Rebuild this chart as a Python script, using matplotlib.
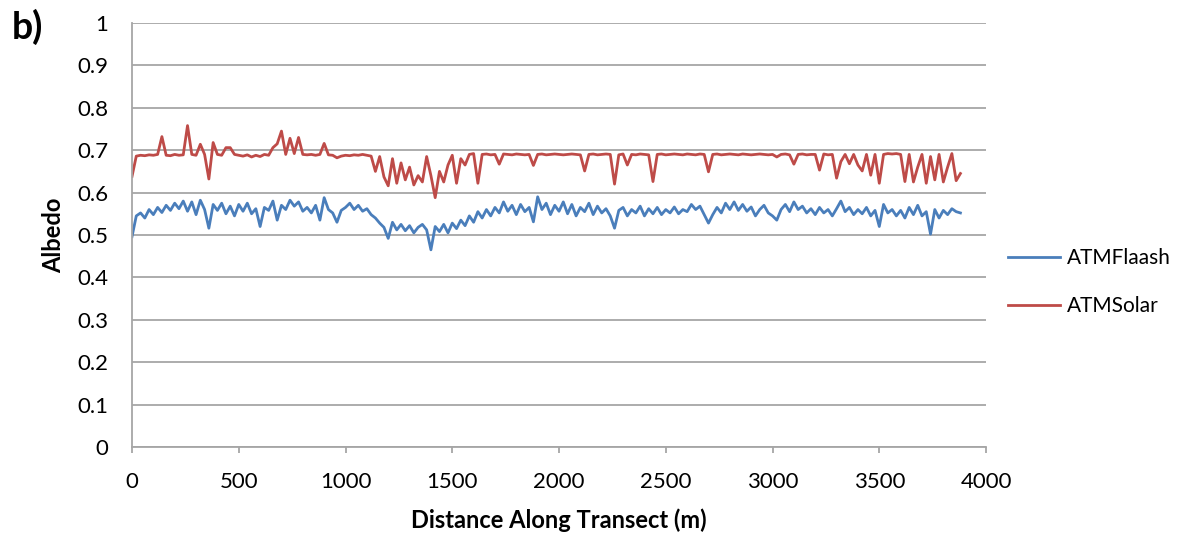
import numpy as np
import matplotlib.pyplot as plt

atm_flaash = [
    0.496, 0.545, 0.552, 0.540, 0.560, 0.548, 0.565, 0.553, 0.570, 0.558,
    0.575, 0.562, 0.580, 0.556, 0.578, 0.548, 0.582, 0.560, 0.516, 0.572,
    0.558, 0.575, 0.550, 0.568, 0.545, 0.572, 0.556, 0.575, 0.550, 0.562,
    0.520, 0.565, 0.558, 0.580, 0.535, 0.570, 0.560, 0.582, 0.568, 0.578,
    0.556, 0.565, 0.552, 0.570, 0.535, 0.588, 0.560, 0.552, 0.530, 0.558,
    0.565, 0.575, 0.560, 0.570, 0.556, 0.562, 0.548, 0.540, 0.528, 0.518,
    0.492, 0.530, 0.512, 0.525, 0.510, 0.522, 0.505, 0.518, 0.525, 0.512,
    0.465, 0.520, 0.508, 0.525, 0.505, 0.528, 0.515, 0.535, 0.522, 0.545,
    0.530, 0.555, 0.540, 0.560, 0.545, 0.565, 0.552, 0.578, 0.556, 0.570,
    0.548, 0.572, 0.555, 0.565, 0.531, 0.590, 0.560, 0.575, 0.548, 0.570,
    0.556, 0.578, 0.550, 0.572, 0.545, 0.565, 0.555, 0.575, 0.548, 0.568,
    0.552, 0.562, 0.545, 0.516, 0.558, 0.565, 0.545, 0.560, 0.552, 0.568,
    0.545, 0.562, 0.550, 0.565, 0.548, 0.560, 0.552, 0.566, 0.550, 0.560,
    0.555, 0.572, 0.560, 0.568, 0.548, 0.528, 0.548, 0.565, 0.552, 0.575,
    0.560, 0.578, 0.558, 0.572, 0.556, 0.566, 0.545, 0.560, 0.570, 0.552,
    0.545, 0.535, 0.560, 0.572, 0.555, 0.578, 0.560, 0.568, 0.552, 0.562,
    0.548, 0.565, 0.552, 0.560, 0.545, 0.562, 0.580, 0.555, 0.565, 0.548,
    0.560, 0.550, 0.565, 0.545, 0.558, 0.520, 0.572, 0.552, 0.560, 0.545,
    0.558, 0.540, 0.565, 0.548, 0.570, 0.545, 0.555, 0.502, 0.560, 0.540,
    0.558, 0.548, 0.562, 0.555, 0.552,
]
atm_solar = [
    0.638, 0.686, 0.688, 0.687, 0.689, 0.688, 0.690, 0.732, 0.688, 0.687,
    0.690, 0.688, 0.689, 0.758, 0.690, 0.688, 0.714, 0.690, 0.632, 0.718,
    0.690, 0.688, 0.706, 0.706, 0.690, 0.688, 0.686, 0.689, 0.684, 0.688,
    0.685, 0.690, 0.688, 0.706, 0.715, 0.745, 0.690, 0.728, 0.692, 0.730,
    0.690, 0.689, 0.690, 0.688, 0.690, 0.716, 0.689, 0.688, 0.682, 0.686,
    0.688, 0.687, 0.689, 0.688, 0.690, 0.688, 0.686, 0.650, 0.685, 0.637,
    0.616, 0.680, 0.622, 0.670, 0.630, 0.660, 0.618, 0.640, 0.625, 0.685,
    0.640, 0.588, 0.650, 0.625, 0.665, 0.688, 0.622, 0.680, 0.665, 0.690,
    0.692, 0.622, 0.690, 0.691, 0.689, 0.690, 0.667, 0.691, 0.690, 0.689,
    0.691, 0.690, 0.689, 0.690, 0.664, 0.690, 0.691, 0.689, 0.690, 0.691,
    0.690, 0.689, 0.690, 0.691, 0.690, 0.689, 0.651, 0.690, 0.691, 0.689,
    0.690, 0.691, 0.690, 0.620, 0.689, 0.691, 0.665, 0.690, 0.689, 0.691,
    0.690, 0.689, 0.626, 0.690, 0.691, 0.689, 0.690, 0.691, 0.690, 0.689,
    0.691, 0.690, 0.689, 0.691, 0.690, 0.649, 0.690, 0.691, 0.689, 0.690,
    0.691, 0.690, 0.689, 0.691, 0.690, 0.689, 0.690, 0.691, 0.690, 0.689,
    0.690, 0.684, 0.690, 0.691, 0.689, 0.667, 0.690, 0.691, 0.689, 0.690,
    0.690, 0.653, 0.691, 0.689, 0.690, 0.634, 0.673, 0.690, 0.668, 0.690,
    0.665, 0.651, 0.690, 0.641, 0.690, 0.622, 0.690, 0.692, 0.691, 0.692,
    0.690, 0.626, 0.690, 0.625, 0.660, 0.690, 0.622, 0.685, 0.630, 0.690,
    0.625, 0.660, 0.692, 0.628, 0.645,
]
distance = np.arange(len(atm_solar)) * 20

blue = '#4A7EBB'
red = '#BE4B48'
grid_col = '#A6A6A6'

plt.rcParams['font.family'] = ['Lato', 'DejaVu Sans']

fig = plt.figure(figsize=(11.85, 5.42), dpi=100)
ax = fig.add_axes([0.1114, 0.1753, 0.7207, 0.7823])

ax.plot(distance, atm_flaash, color=blue, lw=2.0, label='ATMFlaash')
ax.plot(distance, atm_solar, color=red, lw=2.0, label='ATMSolar')

ax.set_xlim(0, 4000)
ax.set_ylim(0, 1)
ax.set_xticks(np.arange(0, 4001, 500))
ax.set_yticks(np.arange(0, 1.01, 0.1))
ax.set_yticklabels(['0', '0.1', '0.2', '0.3', '0.4', '0.5', '0.6', '0.7', '0.8', '0.9', '1'])
ax.grid(axis='y', color=grid_col, lw=1.3)
ax.set_axisbelow(True)
for s in ['top', 'right']:
    ax.spines[s].set_visible(False)
ax.spines['left'].set_color(grid_col)
ax.spines['bottom'].set_color(grid_col)
ax.spines['left'].set_linewidth(1.3)
ax.spines['bottom'].set_linewidth(1.3)
ax.tick_params(axis='both', labelsize=16, labelcolor='black')
ax.tick_params(axis='y', length=0, pad=17)
ax.tick_params(axis='x', length=4, width=1.3, color=grid_col, direction='out', pad=14)

ax.set_xlabel('Distance Along Transect (m)', fontsize=17, fontweight='bold', labelpad=12)
ax.set_ylabel('Albedo', fontsize=17, fontweight='bold', labelpad=9)

fig.text(0.010, 0.928, 'b)', fontsize=27, fontweight='bold')

fig.legend(loc='center left', bbox_to_anchor=(0.842, 0.479), frameon=False, borderpad=0,
           fontsize=15, handlelength=2.5, labelspacing=1.35, handletextpad=0.3)

plt.savefig('out.png', dpi=100)
